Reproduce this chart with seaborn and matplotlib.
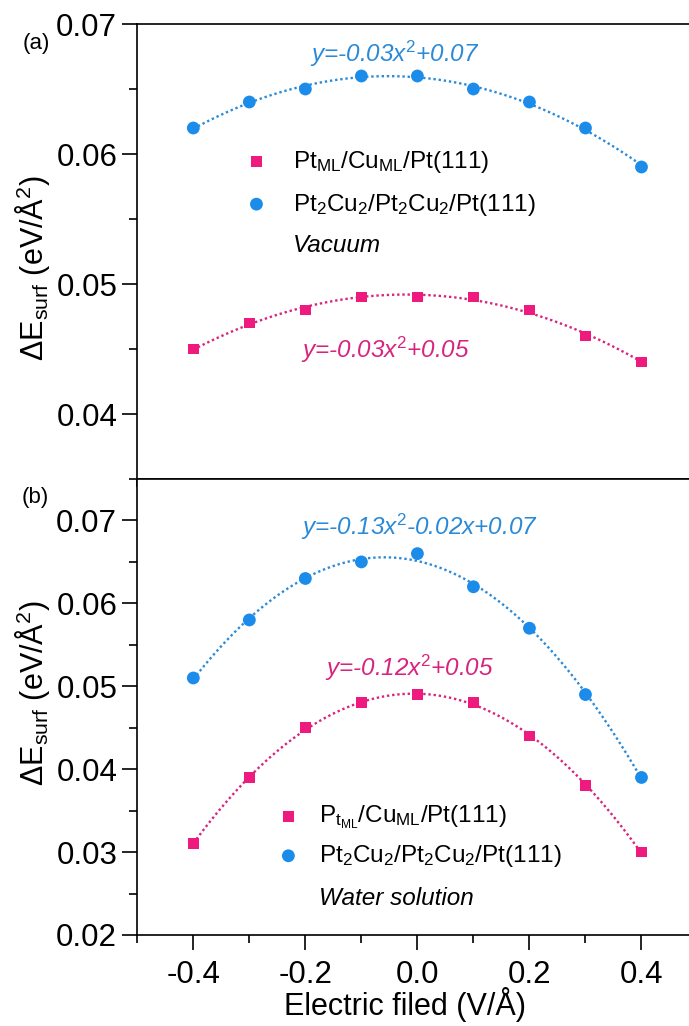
import numpy as np
import pandas as pd
import seaborn as sns
import matplotlib.pyplot as plt

# electric field (V/A)
field = [-0.4, -0.3, -0.2, -0.1, 0.0, 0.1, 0.2, 0.3, 0.4]

# (a) vacuum
vac_ptml = [0.045, 0.047, 0.048, 0.049, 0.049, 0.049, 0.048, 0.046, 0.044]
vac_pt2cu2 = [0.062, 0.064, 0.065, 0.066, 0.066, 0.065, 0.064, 0.062, 0.059]
# (b) water solution
wat_ptml = [0.031, 0.039, 0.045, 0.048, 0.049, 0.048, 0.044, 0.038, 0.030]
wat_pt2cu2 = [0.051, 0.058, 0.063, 0.065, 0.066, 0.062, 0.057, 0.049, 0.039]

xticks = [-0.4, -0.2, 0.0, 0.2, 0.4]
xtick_labels = ['-0.4', '-0.2', '0.0', '0.2', '0.4']
xminor = [-0.5, -0.3, -0.1, 0.1, 0.3, 0.5]
yticks_a = [0.04, 0.05, 0.06, 0.07]
yminor_a = [0.035, 0.045, 0.055, 0.065]
yticks_b = [0.02, 0.03, 0.04, 0.05, 0.06, 0.07]
yminor_b = [0.025, 0.035, 0.045, 0.055, 0.065]

labels_a = [r'Pt$_{\mathrm{ML}}$/Cu$_{\mathrm{ML}}$/Pt(111)',
            r'Pt$_{\mathrm{2}}$Cu$_{\mathrm{2}}$/Pt$_{\mathrm{2}}$Cu$_{\mathrm{2}}$/Pt(111)']
labels_b = [r'P$_{\mathrm{t_{ML}}}$/Cu$_{\mathrm{ML}}$/Pt(111)',
            r'Pt$_{\mathrm{2}}$Cu$_{\mathrm{2}}$/Pt$_{\mathrm{2}}$Cu$_{\mathrm{2}}$/Pt(111)']

pink = '#EE1A7E'
pink_txt = '#D8237F'
blue = '#1C8CEB'
blue_txt = '#2A8AD8'

sns.set_style('ticks')
plt.rcParams['font.family'] = ['Liberation Sans', 'DejaVu Sans']
plt.rcParams['mathtext.fontset'] = 'custom'
plt.rcParams['mathtext.rm'] = 'Liberation Sans'
plt.rcParams['mathtext.it'] = 'Liberation Sans:italic'
plt.rcParams['axes.linewidth'] = 1.2
plt.rcParams['axes.edgecolor'] = 'black'
plt.rcParams['text.color'] = 'black'
plt.rcParams['axes.labelcolor'] = 'black'
plt.rcParams['xtick.color'] = 'black'
plt.rcParams['ytick.color'] = 'black'

fig = plt.figure(figsize=(6.89, 10.26), dpi=100)
W, H = 689, 1026
left = 137.3 / W
width = 560.2 / W
ax1 = fig.add_axes([left, 1 - 479 / H, width, 455 / H])
ax2 = fig.add_axes([left, 1 - 935 / H, width, 456 / H])

dot = (0, (1, 1.2))


def panel(ax, ptml, pt2cu2, labels):
    sns.regplot(x=field, y=ptml, order=2, ci=None, scatter=False, ax=ax,
                color=pink_txt, line_kws=dict(lw=1.7, ls=dot))
    sns.regplot(x=field, y=pt2cu2, order=2, ci=None, scatter=False, ax=ax,
                color=blue_txt, line_kws=dict(lw=1.7, ls=dot))
    sns.scatterplot(x=field, y=ptml, marker='s', s=60, color=pink,
                    edgecolor='none', ax=ax, label=labels[0], zorder=3)
    sns.scatterplot(x=field, y=pt2cu2, marker='o', s=85, color=blue,
                    edgecolor='none', ax=ax, label=labels[1], zorder=3)
    ax.set_xlim(-0.5, 0.5)
    ax.set_xticks(xticks)
    ax.set_xticks(xminor, minor=True)
    ax.tick_params(axis='both', which='major', direction='out', length=11,
                   width=1.2, labelsize=22.5, colors='black')
    ax.tick_params(axis='both', which='minor', direction='out', length=6,
                   width=1.2, colors='black')
    ax.tick_params(axis='x', pad=7)
    ax.set_xlabel('')
    ax.set_ylabel('')


panel(ax1, vac_ptml, vac_pt2cu2, labels_a)
ax1.set_ylim(0.035, 0.07)
ax1.set_yticks(yticks_a)
ax1.set_yticklabels(['%.2f' % v for v in yticks_a])
ax1.set_yticks(yminor_a, minor=True)
ax1.set_xticklabels([])

panel(ax2, wat_ptml, wat_pt2cu2, labels_b)
ax2.set_ylim(0.02, 0.075)
ax2.set_yticks(yticks_b)
ax2.set_yticklabels(['%.2f' % v for v in yticks_b])
ax2.set_yticks(yminor_b, minor=True)
ax2.set_xticklabels(xtick_labels)

# legends
ax1.legend(loc='center left', bbox_to_anchor=(0.191, 0.6505), frameon=False,
           fontsize=17.5, borderpad=0, handlelength=1.0, handletextpad=1.0,
           labelspacing=0.7, scatterpoints=1, borderaxespad=0,
           labelcolor='black')
ax2.legend(loc='center left', bbox_to_anchor=(0.248, 0.216), frameon=False,
           fontsize=17.5, borderpad=0, handlelength=1.0, handletextpad=0.78,
           labelspacing=0.48, scatterpoints=1, borderaxespad=0,
           labelcolor='black')
ax1.text(0.278, 0.499, 'Vacuum', transform=ax1.transAxes, fontsize=17.5,
         style='italic', va='baseline')
ax2.text(0.3243, 0.0658, 'Water solution', transform=ax2.transAxes,
         fontsize=17.5, style='italic', va='baseline')

# fit equations
ax1.text(-0.192, 0.0671, r'y=-0.03x$^{\mathit{2}}$+0.07', color=blue_txt,
         fontsize=17.5, style='italic', va='baseline')
ax1.text(-0.208, 0.0443, r'y=-0.03x$^{\mathit{2}}$+0.05', color=pink_txt,
         fontsize=17.5, style='italic', va='baseline')
ax2.text(-0.208, 0.0683, r'y=-0.13x$^{\mathit{2}}$-0.02x+0.07', color=blue_txt,
         fontsize=17.5, style='italic', va='baseline')
ax2.text(-0.165, 0.0513, r'y=-0.12x$^{\mathit{2}}$+0.05', color=pink_txt,
         fontsize=17.5, style='italic', va='baseline')

# panel tags and axis titles
fig.text(36 / W, 1 - 44 / H, '(a)', fontsize=16, ha='center', va='center')
fig.text(35 / W, 1 - 498 / H, '(b)', fontsize=16, ha='center', va='center')
ylab = r'ΔE$_{\mathrm{surf}}$ (eV/Å$^{\mathrm{2}}$)'
fig.text(33 / W, 1 - 268 / H, ylab, fontsize=22, rotation=90,
         ha='center', va='center')
fig.text(33 / W, 1 - 693 / H, ylab, fontsize=22, rotation=90,
         ha='center', va='center')
fig.text(405 / W, 1 - 1005 / H, 'Electric filed (V/Å)', fontsize=22,
         ha='center', va='center')

fig.savefig('out.png', dpi=100)
